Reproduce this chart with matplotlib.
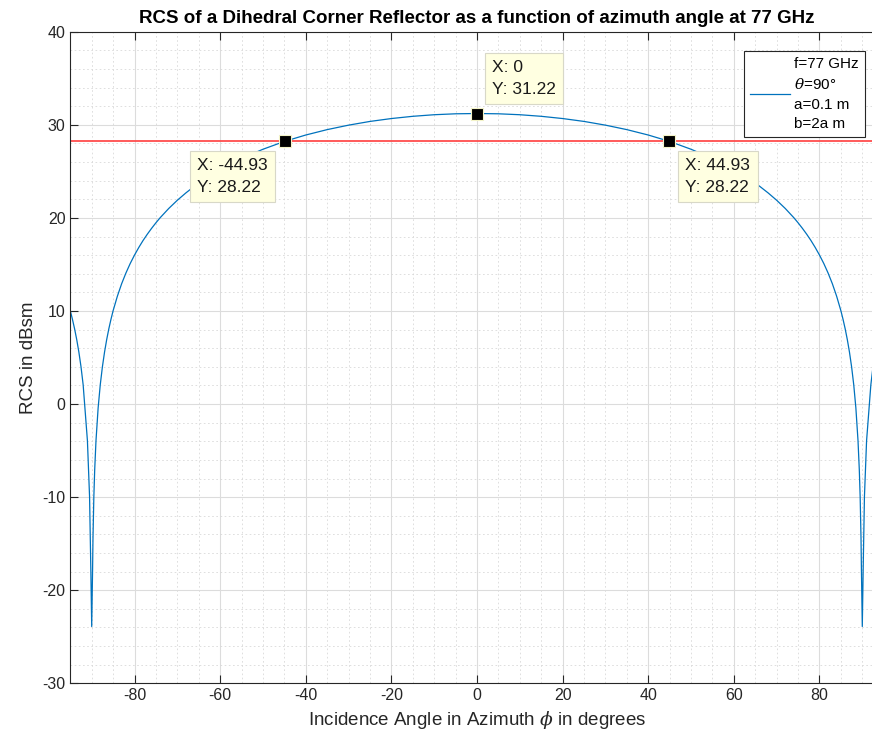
import numpy as np
import matplotlib
matplotlib.use('Agg')
import matplotlib.pyplot as plt
from matplotlib.ticker import MultipleLocator

plt.rcParams['font.family'] = ['Liberation Sans', 'DejaVu Sans']
plt.rcParams['mathtext.fontset'] = 'dejavuserif'
plt.rcParams['axes.unicode_minus'] = False

# ── data (curve is symmetric about 0) ──
phi_half = [0, 5, 10, 15, 20, 25, 30, 35, 40, 45, 50, 55, 60, 62, 64, 66, 68, 70,
            72, 74, 75, 76, 77, 78, 79, 80, 81, 82, 83, 84, 85, 85.5, 86, 86.5,
            87, 87.5, 88, 88.5, 89, 89.3, 89.5, 89.7, 89.8, 90,
            90.2, 90.5, 91, 92, 92.5, 93, 93.5, 94, 94.5, 95]
rcs_half = [31.22, 31.19, 31.09, 30.92, 30.68, 30.37, 29.97, 29.49, 28.91, 28.22,
            27.38, 26.39, 25.20, 24.65, 24.06, 23.41, 22.69, 21.90,
            21.02, 20.03, 19.48, 18.89, 18.26, 17.58, 16.83, 16.01, 15.11, 14.09,
            12.94, 11.60, 10.03, 9.11, 8.09, 6.93,
            5.59, 4.01, 2.08, -0.42, -3.94, -7.04, -9.96, -14.4, -17.9, -23.9,
            -17.9, -9.96, -3.94, 2.08, 4.01, 5.59, 6.93, 8.09, 9.11, 10.03]

phi_deg = [-p for p in reversed(phi_half[1:])] + phi_half
rcs_dbsm = list(reversed(rcs_half[1:])) + rcs_half

half_power = 28.22
tip_x = [-44.93, 0, 44.93]
tip_y = [28.22, 31.22, 28.22]
tip_off = [(-17, -17), (15, 17), (16, -17)]
tip_align = [('right', 'top'), ('left', 'bottom'), ('left', 'top')]

legend_label = 'f=77 GHz\n$\\theta$=90°\na=0.1 m\nb=2a m'

# ── figure ─────────────────────────────────────────────────
fig = plt.figure(figsize=(8.72, 7.4), dpi=100)
ax = fig.add_axes([70.3 / 872, 1 - 683.3 / 740, 813.4 / 872, (683.3 - 31.8) / 740])

ax.plot(phi_deg, rcs_dbsm, color='#0072BD', lw=0.9, label=legend_label)
ax.axhline(half_power, color='#ff4d4d', lw=1.3)
ax.plot(tip_x, tip_y, 's', color='black', ms=8, mec='#f4f4c8', mew=0.8, zorder=5)

for x, y, off, (ha, va) in zip(tip_x, tip_y, tip_off, tip_align):
    ax.annotate(f'X: {x:g}\nY: {y:.2f}', xy=(x, y), xytext=off,
                textcoords='offset pixels', ha=ha, va=va, multialignment='left',
                fontsize=12.5, color='#1a1a1a', linespacing=1.55, zorder=6,
                bbox=dict(boxstyle='square,pad=0.42', fc='#ffffe1', ec='#d8d8c8', lw=0.8))

ax.set_xlim(-95, 95)
ax.set_ylim(-30, 40)
ax.xaxis.set_major_locator(MultipleLocator(20))
ax.xaxis.set_minor_locator(MultipleLocator(5))
ax.yaxis.set_major_locator(MultipleLocator(10))
ax.yaxis.set_minor_locator(MultipleLocator(2))
ax.grid(which='major', color='#dcdcdc', lw=0.8, ls='-')
ax.grid(which='minor', color='#d9d9d9', lw=0.6, ls=(0, (2, 3)))
ax.set_axisbelow(True)
ax.tick_params(which='major', direction='in', length=6, width=0.8, top=True, right=True,
               labelsize=11.5, colors='#262626')
ax.tick_params(which='minor', length=0)
for s in ax.spines.values():
    s.set_color('#262626')
    s.set_linewidth(0.8)

ax.set_title('RCS of a Dihedral Corner Reflector as a function of azimuth angle at 77 GHz',
             fontsize=13.5, fontweight='bold', color='black', pad=6)
ax.set_xlabel('Incidence Angle in Azimuth $\\phi$ in degrees', fontsize=13.5, color='#262626')
ax.set_ylabel('RCS in dBsm', fontsize=13.5, color='#262626')

leg = ax.legend(loc='upper right', bbox_to_anchor=(865 / 872, 1 - 51 / 740),
                bbox_transform=fig.transFigure, fontsize=11, fancybox=False,
                framealpha=1, edgecolor='#262626', handlelength=2.6, handletextpad=0.3,
                borderpad=0.4, borderaxespad=0)
leg.get_frame().set_linewidth(0.8)
for t in leg.get_texts():
    t.set_linespacing(1.5)

fig.savefig('out.png', dpi=100)
